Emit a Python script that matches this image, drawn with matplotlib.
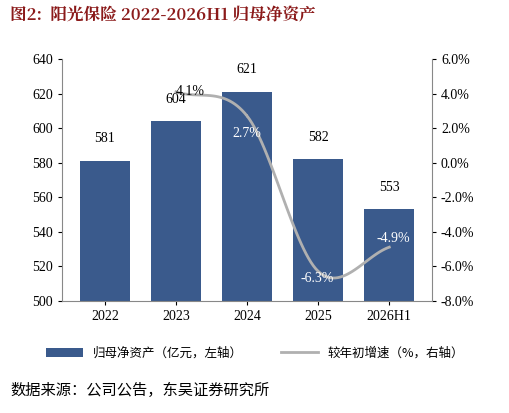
import numpy as np
import matplotlib
matplotlib.use("Agg")
import matplotlib.pyplot as plt
plt.rcParams['font.family'] = ['Noto Sans CJK SC', 'DejaVu Sans']
NUM = ['Liberation Serif', 'DejaVu Serif']

cats = ["2022", "2023", "2024", "2025", "2026H1"]
assets = [581, 604, 621, 582, 553]
growth = [None, 4.1, 2.7, -6.3, -4.9]

fig = plt.figure(figsize=(5.1, 4.13), dpi=100)
ax = fig.add_axes([0.122, 0.272, 0.725, 0.585])
x = np.arange(len(cats))
bc = '#3a5a8c'
ax.bar(x, assets, width=0.7, color=bc, label='归母净资产（亿元，左轴）', zorder=2)
for xi, v in zip(x, assets):
    ax.text(xi, v + 9, f"{v}", ha='center', va='bottom', fontsize=10, family=NUM)
ax.set_ylim(500, 640)
ax.set_yticks(range(500, 641, 20))
ax.set_xlim(-0.6, 4.6)
ax.set_xticks(x)
ax.set_xticklabels(cats, family=NUM)
ax.set_yticklabels([str(t) for t in range(500, 641, 20)], family=NUM)
ax.tick_params(labelsize=10, length=3)
for s in ['top', 'right']:
    ax.spines[s].set_visible(False)
ax.spines['left'].set_color('#888')
ax.spines['bottom'].set_color('#888')

ax2 = ax.twinx()
gx = np.array([1, 2, 3, 4], float)
gy = np.array([g for g in growth if g is not None])
P = np.vstack([gx, gy]).T
P = np.vstack([P[0] - (P[1] - P[0]), P, P[-1] + (P[-1] - P[-2])])
pts = []
for i in range(1, len(P) - 2):
    p0, p1, p2, p3 = P[i - 1], P[i], P[i + 1], P[i + 2]
    for t in np.linspace(0, 1, 30):
        pts.append(0.5 * ((2 * p1) + (-p0 + p2) * t + (2 * p0 - 5 * p1 + 4 * p2 - p3) * t ** 2 + (-p0 + 3 * p1 - 3 * p2 + p3) * t ** 3))
pts = np.array(pts)
ax2.plot(pts[:, 0], pts[:, 1], color='#b0b0b0', lw=2, label='较年初增速（%，右轴）', zorder=3)
offs = [(0.2, 0.0, 'black'), (0, -1.0, 'white'), (-0.02, -0.4, 'white'), (0.05, 0.5, 'white')]
for xi, v, (dx, dy, c) in zip(gx, gy, offs):
    ax2.text(xi + dx, v + dy, f"{v:.1f}%", ha='center', va='center', fontsize=10, color=c, family=NUM)
ax2.set_ylim(-8, 6)
ax2.set_yticks(range(-8, 7, 2))
ax2.set_yticklabels([f"{t:.1f}%" for t in range(-8, 7, 2)], family=NUM)
ax2.tick_params(labelsize=10, length=3)
for s in ['top', 'left', 'bottom']:
    ax2.spines[s].set_visible(False)
ax2.spines['right'].set_color('#888')

h1, l1 = ax.get_legend_handles_labels()
h2, l2 = ax2.get_legend_handles_labels()
fig.legend(h1 + h2, l1 + l2, loc='center', bbox_to_anchor=(0.5, 0.145), ncol=2, frameon=False, fontsize=9, handlelength=3, columnspacing=3)

fig.text(0.02, 0.962, "图2:  阳光保险 2022-2026H1 归母净资产", fontsize=12, fontweight='bold', color='#8b1a1a', va='center',
         family=['Noto Serif CJK SC', 'Noto Sans CJK SC', 'DejaVu Sans'])
fig.text(0.02, 0.055, "数据来源：公司公告，东吴证券研究所", fontsize=11, va='center')
fig.savefig("out.png", dpi=100)
